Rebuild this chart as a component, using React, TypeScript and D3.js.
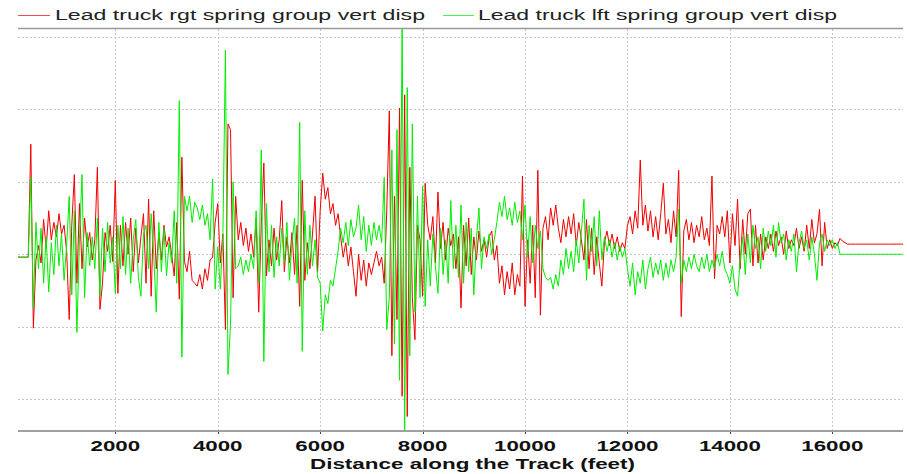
import React, { useMemo } from "react";
import * as d3 from "d3";

// Samples are taken every 50 ft along the track, starting at 100 ft.
const START_FT = 100;
const STEP_FT = 50;

// Lead truck right spring group vertical displacement, hundredths of an inch.
const rgtDisp = [
  -2, -2, -2, -2, -2, 76, -51, -4, 6, -6,
  24, 4, 30, 10, 22, 12, 28, 14, 20, 2,
  -45, 20, 55, -20, 35, -10, 25, 5, 15, -4,
  10, 60, -38, -20, 15, 2, 20, -5, 51, -27,
  20, -8, 22, 0, 25, -12, 18, -6, 12, 28,
  -20, 38, -29, 30, -10, 15, -4, 20, 5, 12,
  0, -15, 22, -31, 67, -5, -12, 2, -18, -20,
  -22, -14, -24, -10, -18, -4, -2, 22, 35, -6,
  14, -52, 90, 86, -30, 40, 10, 22, 6, 18,
  2, 14, -2, 25, -40, 20, 63, -15, 10, -8,
  18, -4, 10, 37, -12, 12, -6, 15, -14, 20,
  -36, 51, -18, 8, -10, 14, 40, -12, 30, 56,
  38, 46, 28, 35, 20, 28, 12, -2, 8, -8,
  5, -12, -29, 0, -18, -4, -22, -6, -14, -6,
  2, -8, -2, -20, 30, 99, -70, 40, -45, 101,
  -98, 110, -112, 60, -30, -59, 20, 10, -29, 49,
  20, 10, 26, -6, 43, 4, 22, -4, 18, 6,
  14, -10, 12, -37, 20, -8, 25, -14, 12, -4,
  16, 2, 10, -2, 12, 16, -4, 6, -20, -8,
  -28, -12, -24, -6, -28, -14, -22, 54, -36, 10,
  -20, 20, -30, 58, -42, 18, 26, 10, 32, 20,
  34, 18, 8, 24, 12, 26, 14, 28, 6, 22,
  10, -4, 24, -10, 18, -14, 12, -6, -22, 8,
  16, 6, 14, 4, 12, 2, 8, 4, 20, 26,
  14, 30, 18, 65, 20, 34, 16, 30, 12, 26,
  10, 28, 49, 14, 24, 8, 30, 12, 58, -43,
  16, 24, 10, 22, 8, 20, 12, 26, 10, 18,
  6, 54, -17, 20, 14, 26, 12, 30, -6, 28,
  6, 38, -10, 24, 0, 28, 31, -8, 20, -6,
  14, -4, 12, 4, 14, 2, 16, 6, 12, 0,
  16, 4, 10, 6, 18, 4, 12, 2, 20, 4,
  24, 8, 14, 31, -8, 22, 4, 10, 4, 8,
  6, 11, 9, 8, 7, 7, 7, 7, 7, 7,
  7, 7, 7, 7, 7, 7, 7, 7, 7, 7,
  7, 7, 7, 7, 7, 7, 7,
];

// Lead truck left spring group vertical displacement, hundredths of an inch.
const lftDisp = [
  -2, -2, -2, -2, -2, 53, -37, 22, -10, 18,
  -20, 12, -26, 8, -14, 20, -8, 14, -18, 6,
  40, -28, 30, -54, 10, 55, -30, 15, -8, 12,
  -10, 25, -29, 18, -12, 22, -6, 12, -27, 20,
  -10, 26, -14, 18, -20, 10, 24, -16, -29, 14,
  20, -10, 28, 0, -40, 22, -12, 18, -15, 8,
  -6, 30, -20, 106, -71, 40, 30, 40, 22, 36,
  32, 24, 34, 20, 28, 10, 52, -24, 5, -24,
  12, 141, -83, -48, 50, -10, -8, -2, -14, -4,
  -12, 0, -10, 30, -20, 72, -74, 35, -12, 20,
  -16, 12, -8, 18, -6, 22, -18, 8, 25, -20,
  91, -67, 30, -14, 20, -8, 10, -16, -20, -53,
  -28, -34, -18, -22, -10, 2, 18, 8, 22, 6,
  24, 12, 18, 34, 10, 26, 2, 20, 6, 22,
  10, 20, 8, 53, -52, -30, 72, -62, 86, -87,
  160, -125, 115, -70, 90, -40, 40, -30, 47, -36,
  10, -22, 14, -8, -27, 18, -14, 10, -20, 37,
  -10, 20, -16, 34, -20, 22, -12, 18, -28, 10,
  32, -10, 12, 4, 14, 0, 10, 22, 36, 26,
  40, 24, 32, 20, 36, 22, 30, 10, 34, -2,
  26, -6, 20, 4, 16, -10, -16, -18, -16, -24,
  -14, -22, -4, -14, 4, -10, 2, -12, 10, -6,
  16, 38, -18, 20, 2, 26, -8, 30, -4, 12,
  2, 10, -2, 8, -4, 6, -2, 4, -10, -22,
  -6, -28, -12, -20, -4, -24, -10, -2, -16, -6,
  -14, -4, -18, -6, -16, -4, -12, -2, 31, -20,
  -4, -12, -2, -10, 0, -8, -12, -2, -10, 0,
  -12, -4, -10, 0, -8, 2, -10, -14, -20, -8,
  -24, -29, -4, 12, -14, 14, -6, 20, 4, 12,
  -10, 18, 2, 16, 6, 20, -2, 22, 8, 14,
  -4, 10, 2, 14, -12, 8, 16, 4, 10, -4,
  12, 0, -18, 8, 14, 2, 10, 6, 10, 4,
  8, 0, 0, 0, 0, 0, 0, 0, 0, 0,
  0, 0, 0, 0, 0, 0, 0, 0, 0, 0,
  0, 0, 0, 0, 0, 0, 0,
];

const seriesNames = [
  "Lead truck rgt spring group vert disp",
  "Lead truck lft spring group vert disp",
];
const seriesColors = ["#f00000", "#00ee00"];

const xTicks = [2000, 4000, 6000, 8000, 10000, 12000, 14000, 16000];
const yGridLines = [-1, -0.5, 0, 0.5, 1, 1.5];
const xDomain = [100, 17380];
const yDomain = [-1.22, 1.555];

const W = 907;
const H = 474;
const plot = { left: 18, right: 903, top: 29, bottom: 431 };
const FONT = "'Liberation Sans', Arial, Helvetica, sans-serif";

export default function App() {
  const x = useMemo(
    () => d3.scaleLinear().domain(xDomain).range([plot.left, plot.right]),
    []
  );
  const y = useMemo(
    () => d3.scaleLinear().domain(yDomain).range([plot.bottom, plot.top]),
    []
  );

  const paths = useMemo(() => {
    const line = d3
      .line<[number, number]>()
      .x((d) => x(d[0]))
      .y((d) => y(d[1]));
    return [rgtDisp, lftDisp].map((vals) =>
      line(vals.map((v, i) => [START_FT + i * STEP_FT, v / 100]))
    );
  }, [x, y]);

  return (
    <svg
      width={W}
      height={H}
      viewBox={`0 0 ${W} ${H}`}
      style={{ position: "absolute", left: 0, top: 0, background: "#fff" }}
    >
      <defs>
        <clipPath id="plotClip">
          <rect
            x={plot.left}
            y={plot.top}
            width={plot.right - plot.left}
            height={plot.bottom - plot.top}
          />
        </clipPath>
      </defs>

      {/* legend */}
      <g fontFamily={FONT} fontSize={14} fill="#222">
        <line x1={18} x2={50} y1={15.5} y2={15.5} stroke={seriesColors[0]} strokeWidth={1} opacity={0.7} />
        <text x={55} y={19.5} textLength={370} lengthAdjust="spacingAndGlyphs">
          {seriesNames[0]}
        </text>
        <line x1={443} x2={474} y1={15.5} y2={15.5} stroke={seriesColors[1]} strokeWidth={1} opacity={0.7} />
        <text x={478} y={19.5} textLength={359} lengthAdjust="spacingAndGlyphs">
          {seriesNames[1]}
        </text>
      </g>

      {/* grid */}
      <g stroke="#c8c8c8" strokeWidth={1} strokeDasharray="2,2">
        {yGridLines.map((v) => (
          <line key={"h" + v} x1={plot.left} x2={plot.right} y1={Math.round(y(v)) + 0.5} y2={Math.round(y(v)) + 0.5} />
        ))}
        {xTicks.map((t) => (
          <line key={"v" + t} x1={Math.round(x(t)) + 0.5} x2={Math.round(x(t)) + 0.5} y1={plot.top} y2={plot.bottom} />
        ))}
      </g>

      {/* series */}
      <g clipPath="url(#plotClip)" fill="none" strokeWidth={1} strokeLinejoin="round">
        <path d={paths[0] || ""} stroke={seriesColors[0]} />
        <path d={paths[1] || ""} stroke={seriesColors[1]} />
      </g>

      {/* frame */}
      <line x1={plot.left} x2={plot.right} y1={plot.top - 0.5} y2={plot.top - 0.5} stroke="#999" strokeWidth={1.5} />
      <line x1={plot.left} x2={plot.right} y1={plot.bottom} y2={plot.bottom} stroke="#a0a0a0" strokeWidth={2} />

      {/* x axis */}
      <g fontFamily={FONT} fontSize={14} fontWeight="bold" fill="#111" textAnchor="middle">
        {xTicks.map((t) => (
          <g key={"t" + t}>
            <line x1={Math.round(x(t)) + 0.5} x2={Math.round(x(t)) + 0.5} y1={plot.bottom + 1} y2={plot.bottom + 3} stroke="#444" />
            <text x={x(t)} y={451} textLength={String(t).length * 12.4} lengthAdjust="spacingAndGlyphs">
              {d3.format("d")(t)}
            </text>
          </g>
        ))}
        <text x={472.5} y={468.5} textLength={325} lengthAdjust="spacingAndGlyphs">
          Distance along the Track (feet)
        </text>
      </g>
    </svg>
  );
}
